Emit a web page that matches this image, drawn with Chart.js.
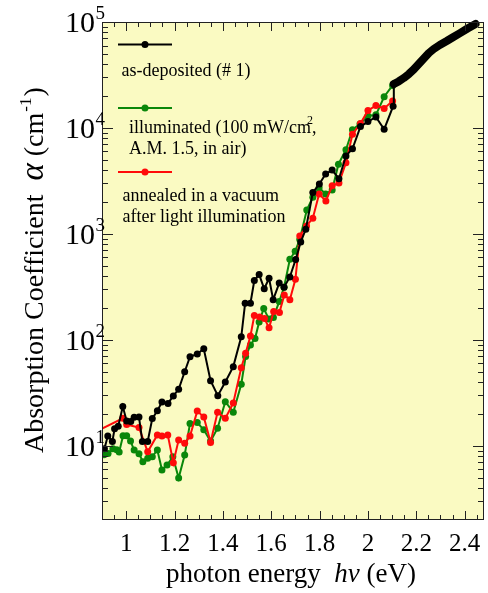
<!DOCTYPE html>
<html><head><meta charset="utf-8">
<script src="https://cdn.jsdelivr.net/npm/chart.js@4.4.0/dist/chart.umd.min.js"></script>
<style>html,body{margin:0;padding:0;background:#fff;}</style>
</head><body>
<canvas id="c" width="488" height="593"></canvas>
<script>
// ---- data (photon energy in eV, absorption coefficient in cm^-1) ----
const asDepEnergy = [0.910,0.924,0.943,0.952,0.967,0.986,1.002,1.019,1.033,1.053,1.067,1.089,1.108,1.129,1.148,1.173,1.195,1.217,1.242,1.264,1.294,1.321,1.349,1.379,1.410,1.443,1.476,1.492,1.514,1.530,1.550,1.571,1.591,1.608,1.633,1.653,1.677,1.701,1.722,1.743,1.772,1.799,1.825,1.852,1.880,1.909,1.936,1.969,2.000,2.033,2.067,2.104,2.107];
const asDepAlpha  = [9.4,12.4,11.0,14.5,15.3,23.5,17.2,17.0,18.6,18.7,11.0,11.0,18.1,21.5,25.9,25.2,29.6,34.2,50.1,69.5,73.7,82.7,41.2,29.8,40.1,56.0,107,222,222,364,414,304,382,240,344,315,393,574,840,1110,2460,2960,3680,4010,3320,5450,6370,10300,11500,12700,9720,16000,26000];
// dense high-energy part of the as-deposited curve
const asDepEdgeEnergy = [2.107,2.127,2.148,2.169,2.189,2.210,2.231,2.252,2.272,2.297,2.326,2.350,2.379,2.412,2.445];
const asDepEdgeAlpha  = [26000,27500,29600,32300,35600,40200,45300,51000,55600,60700,66200,71400,78200,86900,95800];
const illumEnergy = [0.908,0.925,0.945,0.961,0.971,0.987,1.002,1.018,1.033,1.053,1.069,1.089,1.108,1.129,1.148,1.169,1.193,1.217,1.242,1.264,1.294,1.321,1.349,1.378,1.410,1.443,1.476,1.494,1.514,1.533,1.550,1.569,1.590,1.609,1.633,1.653,1.677,1.699,1.718,1.747,1.772,1.798,1.825,1.852,1.878,1.909,1.936,1.967,2.000,2.033,2.067,2.102];
const illumAlpha  = [8.26,8.48,9.41,9.21,8.76,12.5,12.5,11.1,9.15,8.45,7.10,7.64,7.91,9.15,5.93,6.61,7.91,4.98,8.20,16.3,16.6,14.2,11.1,14.7,26.1,20.8,38.2,69.8,89.6,103,148,198,158,163,230,314,577,686,887,1680,2220,2730,2380,2600,4550,6240,9630,10900,13000,13300,19700,25200];
const annealEnergy = [0.85,0.986,1.002,1.053,1.089,1.129,1.148,1.172,1.195,1.217,1.242,1.264,1.294,1.321,1.349,1.378,1.410,1.443,1.476,1.494,1.514,1.530,1.552,1.572,1.591,1.610,1.634,1.654,1.677,1.700,1.718,1.746,1.772,1.798,1.826,1.852,1.880,1.909,1.936,1.969,2.000,2.033,2.067,2.102];
const annealAlpha  = [12.8,18.2,15.9,14.9,8.81,12.7,12.4,12.7,6.95,11.4,10.6,12.4,21.3,18.7,10.8,20.8,18.2,25.4,54.7,74.8,109,170,165,159,130,186,182,265,240,373,957,1190,1410,2380,2050,2850,3030,4700,8730,11000,14600,16300,15300,18000];
const xTickLabels = ['1','1.2','1.4','1.6','1.8','2','2.2','2.4'];
const xTickValues = [1,1.2,1.4,1.6,1.8,2,2.2,2.4];
const yTickExponents = [1,2,3,4,5];
const legendLabels = [['as-deposited (# 1)'], ['illuminated (100 mW/cm', 'A.M. 1.5, in air)'], ['annealed in a vacuum', 'after light illumination']];

const BLACK = '#000000', GREEN = '#0a870a', RED = '#ff0a0a', BG = '#fafac2';
const SERIF = '"Liberation Serif", "DejaVu Serif", serif';

function pts(xs, ys){ return xs.map((x,i)=>({x:x, y:ys[i]})); }

function ds(label, xs, ys, color){
  return {label, data: pts(xs, ys), borderColor: color, backgroundColor: color,
    pointBackgroundColor: color, pointBorderColor: color, borderWidth: 2,
    pointRadius: 3.5, pointBorderWidth: 0, showLine: true, tension: 0};
}

const decor = {
  id: 'decor',
  beforeDraw(chart){
    const {ctx, chartArea:a} = chart;
    ctx.save();
    ctx.fillStyle = '#fff'; ctx.fillRect(0,0,chart.width,chart.height);
    ctx.fillStyle = BG; ctx.fillRect(a.left, a.top, a.right-a.left, a.bottom-a.top);
    ctx.restore();
  },
  afterDraw(chart){
    const {ctx, chartArea:a, scales} = chart;
    const xs = scales.x, ys = scales.y;
    ctx.save();
    // frame
    ctx.strokeStyle = '#222'; ctx.lineWidth = 1;
    ctx.strokeRect(a.left+0.5, a.top+0.5, a.right-a.left-1, a.bottom-a.top-1);
    // x ticks (inward, top and bottom)
    ctx.beginPath();
    for (let k = 18; k <= 50; k++){
      const v = k*0.05; const p = Math.round(xs.getPixelForValue(v))+0.5;
      if (p <= a.left+1 || p >= a.right-1) continue;
      const len = (k % 4 === 0) ? 9 : 5;
      ctx.moveTo(p, a.bottom); ctx.lineTo(p, a.bottom-len);
      ctx.moveTo(p, a.top); ctx.lineTo(p, a.top+len);
    }
    // y ticks (inward, left and right)
    for (let d = 0; d <= 5; d++){
      for (let m = 1; m <= 9; m++){
        const v = m*Math.pow(10,d);
        if (v < 2 || v > 1e5) continue;
        const p = Math.round(ys.getPixelForValue(v))+0.5;
        if (p <= a.top+1 || p >= a.bottom-1) continue;
        const len = (m === 1) ? 11 : 6;
        ctx.moveTo(a.left, p); ctx.lineTo(a.left+len, p);
        ctx.moveTo(a.right, p); ctx.lineTo(a.right-len, p);
      }
    }
    ctx.stroke();
    ctx.fillStyle = '#000';
    // x tick labels
    ctx.font = '25px ' + SERIF; ctx.textAlign = 'center'; ctx.textBaseline = 'alphabetic';
    xTickValues.forEach((v,i)=>{ ctx.fillText(xTickLabels[i], xs.getPixelForValue(v), 551); });
    // y tick labels 10^n
    yTickExponents.forEach(e=>{
      const p = ys.getPixelForValue(Math.pow(10,e));
      ctx.font = '30px ' + SERIF; ctx.textAlign = 'right'; ctx.textBaseline = 'alphabetic';
      ctx.fillText('10', 95, p+10);
      ctx.font = '19px ' + SERIF; ctx.textAlign = 'left';
      ctx.fillText(String(e), 95.5, p-3);
    });
    // x title
    ctx.textAlign = 'left'; ctx.textBaseline = 'alphabetic';
    let x = 166; const yb = 582;
    ctx.font = '27px ' + SERIF; ctx.fillText('photon energy ', x, yb); x += ctx.measureText('photon energy  ').width;
    ctx.font = 'italic 27px ' + SERIF; ctx.fillText('h\u03BD', x, yb); x += ctx.measureText('h\u03BD').width;
    ctx.font = '27px ' + SERIF; ctx.fillText(' (eV)', x, yb);
    // y title (rotated)
    ctx.save();
    ctx.translate(43, 453); ctx.rotate(-Math.PI/2);
    let t = 0;
    ctx.font = '28px ' + SERIF; ctx.fillText('Absorption Coefficient  ', t, 0); t += ctx.measureText('Absorption Coefficient  ').width;
    ctx.font = 'italic 33px ' + SERIF; ctx.fillText('\u03B1', t, 0); t += ctx.measureText('\u03B1').width;
    ctx.font = '28px ' + SERIF; ctx.fillText(' (cm', t, 0); t += ctx.measureText(' (cm').width;
    ctx.font = '17px ' + SERIF; ctx.fillText('-1', t+1, -12); t += ctx.measureText('-1').width + 2;
    ctx.font = '28px ' + SERIF; ctx.fillText(')', t, 0);
    ctx.restore();
    // legend
    const colors = [BLACK, GREEN, RED];
    const lineY = [44.5, 108, 172];
    ctx.lineWidth = 2;
    colors.forEach((c,i)=>{
      ctx.strokeStyle = c; ctx.fillStyle = c;
      ctx.beginPath(); ctx.moveTo(118, lineY[i]); ctx.lineTo(172, lineY[i]); ctx.stroke();
      ctx.beginPath(); ctx.arc(145, lineY[i], 3.5, 0, Math.PI*2); ctx.fill();
    });
    ctx.fillStyle = '#000'; ctx.font = '18px ' + SERIF; ctx.textAlign = 'left'; ctx.textBaseline = 'middle';
    ctx.fillText(legendLabels[0][0], 121.5, 71);
    ctx.fillText(legendLabels[1][0], 129, 128);
    let w = ctx.measureText(legendLabels[1][0]).width;
    ctx.font = '12px ' + SERIF; ctx.fillText('2', 129 + w - 4, 121);
    ctx.font = '18px ' + SERIF; ctx.fillText(',', 129 + w + 1, 128);
    ctx.fillText(legendLabels[1][1], 129, 149);
    ctx.fillText(legendLabels[2][0], 122.5, 196.5);
    ctx.fillText(legendLabels[2][1], 122.5, 217);
    ctx.restore();
  }
};

const edge = ds('as-deposited (# 1)', asDepEdgeEnergy, asDepEdgeAlpha, BLACK);
edge.borderWidth = 8; edge.pointRadius = 0; edge.borderCapStyle = 'round'; edge.borderJoinStyle = 'round'; edge.clip = false;

new Chart(document.getElementById('c'), {
  type: 'scatter',
  data: { datasets: [
    edge,
    ds('as-deposited (# 1)', asDepEnergy, asDepAlpha, BLACK),
    ds('annealed in a vacuum after light illumination', annealEnergy, annealAlpha, RED),
    ds('illuminated (100 mW/cm2, A.M. 1.5, in air)', illumEnergy, illumAlpha, GREEN)
  ]},
  options: {
    responsive: false, animation: false, devicePixelRatio: 1,
    layout: { padding: { left: 102, right: 4, top: 22, bottom: 73 } },
    plugins: { legend: { display: false }, tooltip: { enabled: false } },
    scales: {
      x: { type: 'linear', min: 0.9, max: 2.48, display: false },
      y: { type: 'logarithmic', min: 2, max: 100000, display: false }
    }
  },
  plugins: [decor]
});
</script>
</body></html>
